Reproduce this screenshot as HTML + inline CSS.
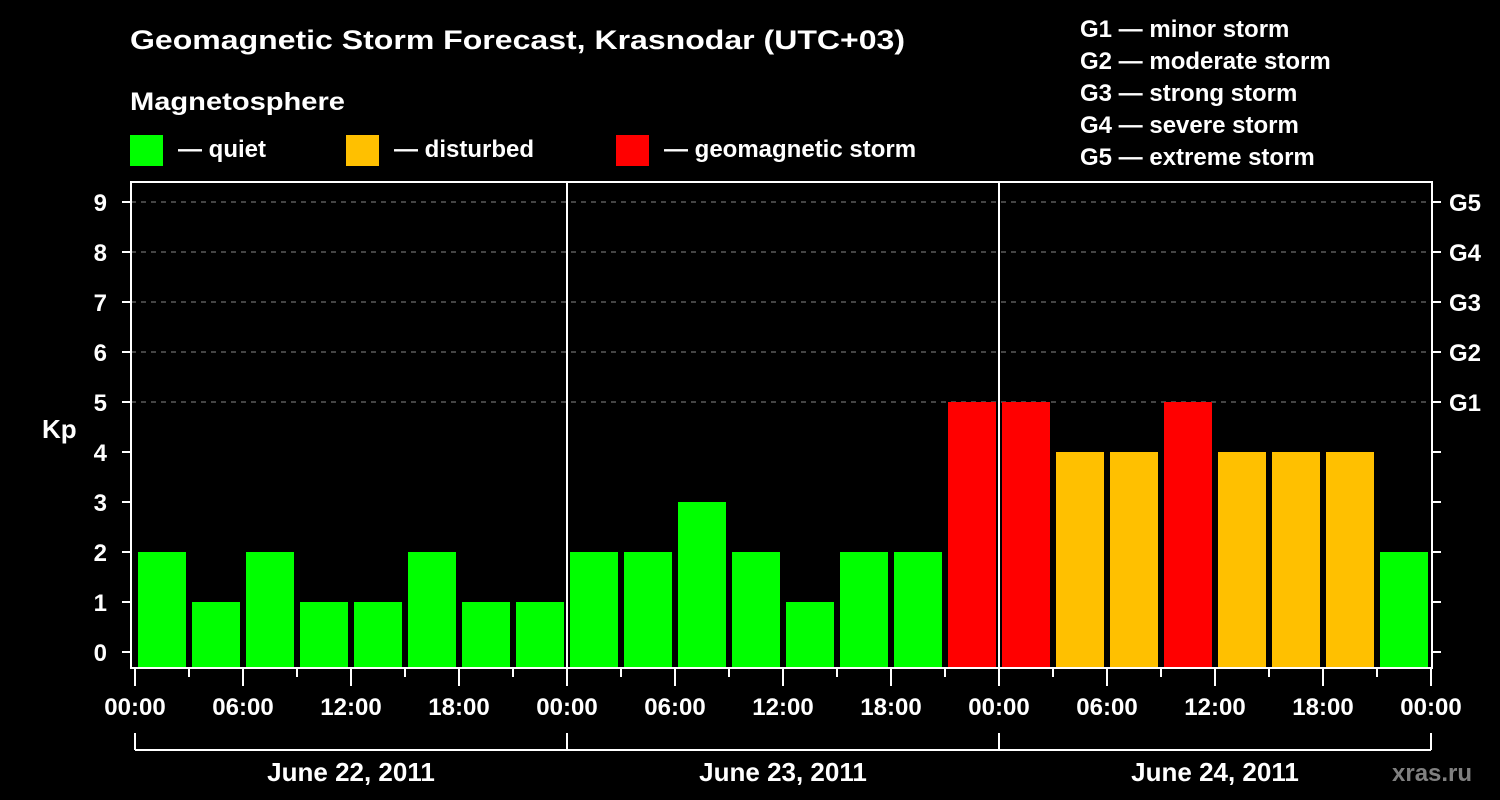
<!DOCTYPE html>
<html><head><meta charset="utf-8"><style>
html,body{margin:0;padding:0;background:#000;}
svg{display:block;font-family:"Liberation Sans",Arial,sans-serif;font-weight:bold;}
</style></head><body>
<svg id="chart" width="1500" height="800" viewBox="0 0 1500 800" xmlns="http://www.w3.org/2000/svg">
<rect width="1500" height="800" fill="#000"/>
<text x="130" y="49" fill="#fff" font-size="27" textLength="775" lengthAdjust="spacingAndGlyphs">Geomagnetic Storm Forecast, Krasnodar (UTC+03)</text>
<text x="130" y="110" fill="#fff" font-size="25" textLength="215" lengthAdjust="spacingAndGlyphs">Magnetosphere</text>
<g>
<rect x="130" y="135" width="33" height="31" fill="#00ff00"/>
<text x="178" y="157" fill="#fff" font-size="24">— quiet</text></g>
<g>
<rect x="346" y="135" width="33" height="31" fill="#ffc000"/>
<text x="394" y="157" fill="#fff" font-size="24">— disturbed</text></g>
<g>
<rect x="616" y="135" width="33" height="31" fill="#ff0000"/>
<text x="664" y="157" fill="#fff" font-size="24">— geomagnetic storm</text></g>
<g fill="#fff" font-size="24">
<text x="1080" y="37">G1 — minor storm</text>
<text x="1080" y="69">G2 — moderate storm</text>
<text x="1080" y="101">G3 — strong storm</text>
<text x="1080" y="133">G4 — severe storm</text>
<text x="1080" y="165">G5 — extreme storm</text>
</g>
<text x="42" y="438" fill="#fff" font-size="26">Kp</text>
<text x="1392" y="781" fill="#808080" font-size="24">xras.ru</text>
<g id="grid"></g>
<g id="bars"></g>
<g id="axes"></g>
</svg>
<script>
const values = [2,1,2,1,1,2,1,1, 2,2,3,2,1,2,2,5, 5,4,4,5,4,4,4,2];
const yTicks = [0,1,2,3,4,5,6,7,8,9];
const gLabels = ["G1","G2","G3","G4","G5"];
const gLevels = [5,6,7,8,9];
const xTickLabels = ["00:00","06:00","12:00","18:00","00:00","06:00","12:00","18:00","00:00","06:00","12:00","18:00","00:00"];
const dayLabels = ["June 22, 2011","June 23, 2011","June 24, 2011"];

const NS="http://www.w3.org/2000/svg";
const L=131,R=1432,T=182,B=668;
const X0=135, PX_PER_HOUR=18;
const xs=h=>X0+h*PX_PER_HOUR;
const ys=v=>652-v*50;
function mk(tag,attrs,parent){const e=document.createElementNS(NS,tag);for(const k in attrs)e.setAttribute(k,attrs[k]);parent.appendChild(e);return e;}
const grid=document.getElementById('grid'),bars=document.getElementById('bars'),axes=document.getElementById('axes');
const col=v=>v>=5?'#ff0000':(v>=4?'#ffc000':'#00ff00');

gLevels.forEach((lv,i)=>{
  const l=mk('line',{x1:L,x2:R,y1:ys(lv),y2:ys(lv),stroke:'#888','stroke-width':1,'stroke-dasharray':'5,5'},grid);
  
  
  const t=mk('text',{x:1449,y:ys(lv)+9,fill:'#fff','font-size':24},axes);t.textContent=gLabels[i];
  
  
});
values.forEach((v,i)=>{
  const r=mk('rect',{x:xs(i*3)+3,y:ys(v),width:48,height:B-ys(v),fill:col(v)},bars);
  
  
});
// frame
mk('rect',{x:L,y:T,width:R-L,height:B-T,fill:'none',stroke:'#fff','stroke-width':2},axes);
[1,2].forEach(d=>{mk('line',{x1:xs(d*24),x2:xs(d*24),y1:T,y2:B,stroke:'#fff','stroke-width':2},axes);});
yTicks.forEach(v=>{
  mk('line',{x1:122,x2:L,y1:ys(v),y2:ys(v),stroke:'#fff','stroke-width':2},axes);
  mk('line',{x1:R,x2:1441,y1:ys(v),y2:ys(v),stroke:'#fff','stroke-width':2},axes);
  const t=mk('text',{x:107,y:ys(v)+9,fill:'#fff','font-size':24,'text-anchor':'end'},axes);t.textContent=v;
  
  
});
for(let h=0;h<=72;h+=3){
  const major=h%6===0;
  mk('line',{x1:xs(h),x2:xs(h),y1:B,y2:major?686:677,stroke:'#fff','stroke-width':2},axes);
}
xTickLabels.forEach((s,i)=>{
  const t=mk('text',{x:xs(i*6),y:715,fill:'#fff','font-size':24,'text-anchor':'middle'},axes);t.textContent=s;
  
  
});
mk('line',{x1:xs(0),x2:xs(72),y1:750,y2:750,stroke:'#fff','stroke-width':2},axes);
for(let d=0;d<=3;d++) mk('line',{x1:xs(d*24),x2:xs(d*24),y1:733,y2:750,stroke:'#fff','stroke-width':2},axes);
dayLabels.forEach((s,i)=>{
  const t=mk('text',{x:xs(i*24+12),y:781,fill:'#fff','font-size':26,'text-anchor':'middle'},axes);t.textContent=s;
  
  
});
</script>
</body></html>
